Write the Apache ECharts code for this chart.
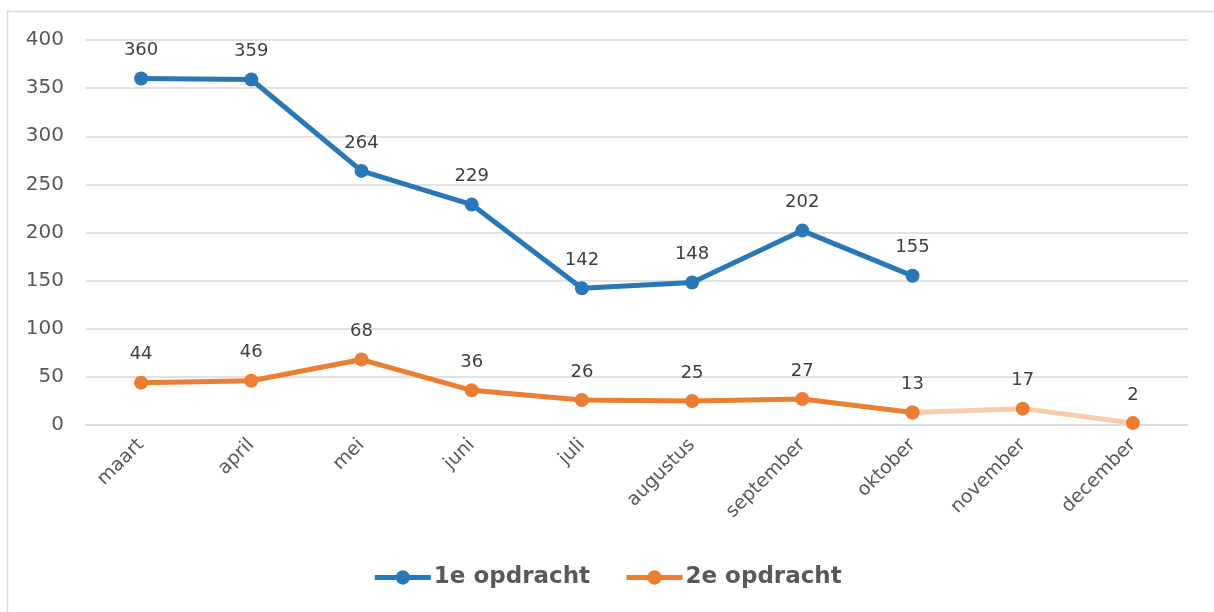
<!DOCTYPE html>
<html>
<head>
<meta charset="utf-8">
<style>
  html, body { margin: 0; padding: 0; background: #fff; }
  #chart { width: 1214px; height: 612px; }
</style>
<script src="https://cdn.jsdelivr.net/npm/echarts@6/dist/echarts.min.js"></script>
</head>
<body>
<div id="chart"></div>
<script>
var maanden = ["maart", "april", "mei", "juni", "juli", "augustus", "september", "oktober", "november", "december"];
var opdracht1 = [360, 359, 264, 229, 142, 148, 202, 155];
var opdracht2 = [44, 46, 68, 36, 26, 25, 27, 13, 17, 2];
var yTicks = [0, 50, 100, 150, 200, 250, 300, 350, 400];
var lichtVanaf = 7; // vanaf oktober lichter

var myChart = echarts.init(document.getElementById("chart"));
var fam = "DejaVu Sans";

// oranje: vast tot oktober, daarna licht
var oranjeVast = opdracht2.map(function (v, i) { return i <= lichtVanaf ? v : "-"; });
var oranjeLicht = opdracht2.map(function (v, i) { return i >= lichtVanaf ? v : "-"; });

var labelStijl = {
  show: true,
  position: "top",
  distance: 12,
  color: "#404040",
  fontSize: 18,
  fontFamily: fam
};

var option = {
  animation: false,
  textStyle: { fontFamily: fam },
  graphic: [{
    type: "rect",
    shape: { x: 7.5, y: 11.5, width: 1300, height: 700 },
    style: { fill: "none", stroke: "#d9d9d9", lineWidth: 1.5 },
    silent: true
  }],
  grid: { left: 86, right: 26, top: 40, bottom: 187 },
  legend: {
    bottom: 18,
    left: "center",
    itemWidth: 56,
    itemHeight: 18,
    itemGap: 34,
    data: ["1e opdracht", "2e opdracht"],
    lineStyle: { width: 5 },
    textStyle: { color: "#595959", fontSize: 23, fontWeight: "bold", fontFamily: fam, padding: [0, 0, 0, -2] }
  },
  xAxis: {
    type: "category",
    data: maanden,
    boundaryGap: true,
    axisLine: { show: true, lineStyle: { color: "#d9d9d9", width: 1.5 } },
    axisTick: { show: false },
    axisLabel: { rotate: 45, color: "#595959", fontSize: 19, fontFamily: fam, margin: 17 }
  },
  yAxis: {
    type: "value",
    min: yTicks[0],
    max: yTicks[yTicks.length - 1],
    interval: yTicks[1] - yTicks[0],
    axisLine: { show: false },
    axisTick: { show: false },
    splitLine: { lineStyle: { color: "#d9d9d9", width: 1.5 } },
    axisLabel: { color: "#595959", fontSize: 20, fontFamily: fam, margin: 22 }
  },
  series: [{
    name: "2e licht",
    type: "line",
    data: oranjeLicht,
    symbol: "circle",
    symbolSize: 14,
    itemStyle: { color: "#ED7D31" },
    lineStyle: { color: "#F8CBAD", width: 5 },
    label: Object.assign({}, labelStijl, {
      formatter: function (p) { return p.dataIndex > lichtVanaf ? p.value : ""; }
    }),
    z: 2
  }, {
    name: "2e opdracht",
    type: "line",
    data: oranjeVast,
    symbol: "circle",
    symbolSize: 14,
    itemStyle: { color: "#ED7D31" },
    lineStyle: { color: "#ED7D31", width: 5 },
    label: labelStijl,
    z: 3
  }, {
    name: "1e opdracht",
    type: "line",
    data: opdracht1,
    symbol: "circle",
    symbolSize: 14,
    itemStyle: { color: "#2878B8" },
    lineStyle: { color: "#2878B8", width: 5 },
    label: labelStijl,
    z: 4
  }]
};

myChart.setOption(option);
window.addEventListener("resize", function () {
  myChart.resize();
});
</script>
</body>
</html>
